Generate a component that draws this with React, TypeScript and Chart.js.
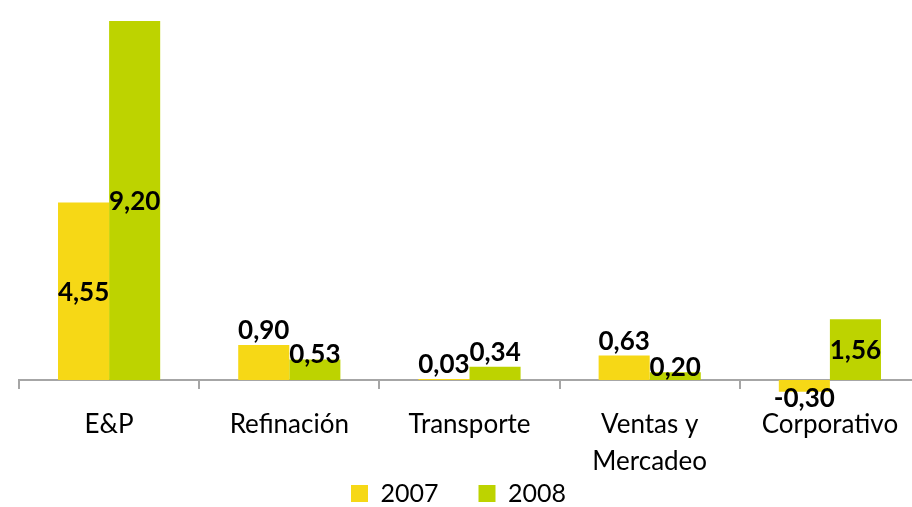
import React, { useEffect, useRef } from 'react';
import { Chart, registerables } from 'chart.js';

Chart.register(...registerables);

const categories: string[][] = [['E&P'], ['Refinación'], ['Transporte'], ['Ventas y', 'Mercadeo'], ['Corporativo']];
const seriesNames = ['2007', '2008'];
const values2007 = [4.55, 0.9, 0.03, 0.63, -0.3];
const values2008 = [9.2, 0.53, 0.34, 0.2, 1.56];
const anchors2007 = ['center', 'end', 'end', 'end', 'edge'];
const anchors2008 = ['center', 'edge', 'end', 'edge', 'center'];
const yMin = -1.56;
const yMax = 9.2;

const COLOR_2007 = '#F6D816';
const COLOR_2008 = '#BDD300';
const AXIS_GRAY = '#A6A6A6';
const FONT = 'Lato';

const fmt = (v: number) => v.toFixed(2).replace('.', ',');

const valueLabels = {
  id: 'valueLabels',
  afterDatasetsDraw(chart: any) {
    const ctx = chart.ctx;
    const size = 26;
    const capH = size * 0.72;
    ctx.save();
    ctx.font = `bold ${size}px ${FONT}`;
    ctx.fillStyle = '#000';
    ctx.textAlign = 'center';
    ctx.textBaseline = 'alphabetic';
    chart.data.datasets.forEach((ds: any, di: number) => {
      const meta = chart.getDatasetMeta(di);
      meta.data.forEach((bar: any, i: number) => {
        const v = ds.data[i];
        const { x, y, base } = bar.getProps(['x', 'y', 'base'], true);
        const dir = v >= 0 ? -1 : 1;
        const a = ds.labelAnchors[i];
        let mid: number;
        if (a === 'center') mid = (y + base) / 2;
        else if (a === 'edge') mid = y + dir * 6;
        else mid = y + dir * (6 + capH / 2);
        ctx.fillText(fmt(v), x, mid + capH / 2);
      });
    });
    ctx.restore();
  },
};

const legendSpan = {
  id: 'legendSpan',
  afterLayout(chart: any) {
    const l = chart.legend;
    if (l) {
      l.left = 0;
      l.right = 917;
    }
  },
};

export default function App() {
  const ref = useRef<HTMLCanvasElement>(null);
  useEffect(() => {
    if (!ref.current) return;
    const chart = new Chart(ref.current, {
      type: 'bar',
      data: {
        labels: categories,
        datasets: [
          {
            label: seriesNames[0],
            data: values2007,
            backgroundColor: COLOR_2007,
            borderWidth: 0,
            categoryPercentage: 0.567,
            barPercentage: 1.0,
            labelAnchors: anchors2007,
          } as any,
          {
            label: seriesNames[1],
            data: values2008,
            backgroundColor: COLOR_2008,
            borderWidth: 0,
            categoryPercentage: 0.567,
            barPercentage: 1.0,
            labelAnchors: anchors2008,
          } as any,
        ],
      },
      options: {
        responsive: false,
        animation: false,
        layout: { padding: { top: 21, left: 19, right: 1, bottom: 0 } },
        plugins: {
          legend: {
            position: 'bottom',
            labels: {
              font: { size: 25, family: FONT },
              color: '#000',
              boxWidth: 17,
              boxHeight: 17,
              padding: 40,
            },
          },
          tooltip: { enabled: false },
        },
        scales: {
          x: {
            position: { y: 0 } as any,
            grid: {
              display: true,
              drawOnChartArea: false,
              drawTicks: true,
              tickLength: 8,
              color: AXIS_GRAY,
              lineWidth: 2,
              offset: true,
            },
            border: { display: true, color: AXIS_GRAY, width: 2 },
            ticks: {
              color: '#000',
              font: { size: 26, family: FONT, lineHeight: '37px' },
              padding: 18,
              maxRotation: 0,
              autoSkip: false,
            },
          },
          y: { display: false, min: yMin, max: yMax },
        },
      },
      plugins: [valueLabels, legendSpan],
    });
    return () => chart.destroy();
  }, []);
  return (
    <div style={{ position: 'fixed', left: 0, top: 0, width: 912, height: 507, overflow: 'hidden', background: '#fff' }}>
      <canvas ref={ref} width={921} height={516} style={{ display: 'block' }} />
    </div>
  );
}
